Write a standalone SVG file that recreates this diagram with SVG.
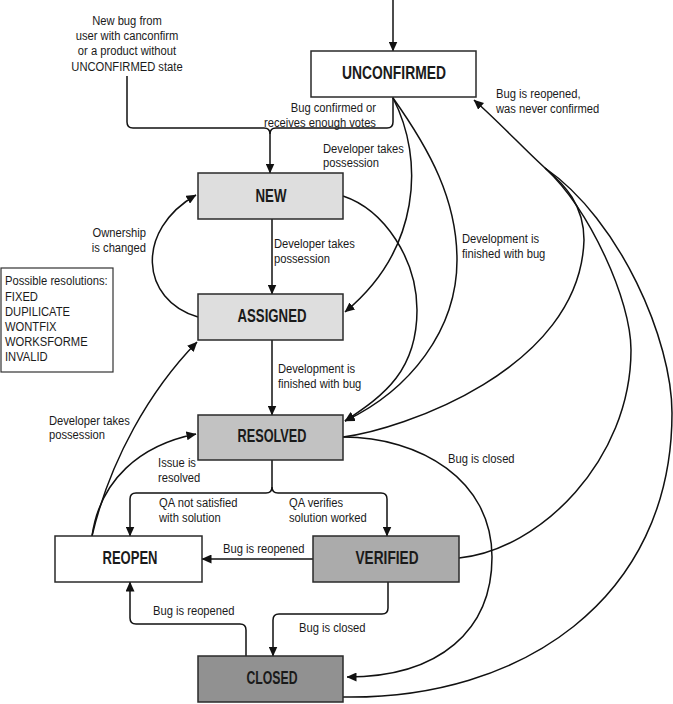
<svg xmlns="http://www.w3.org/2000/svg" width="673" height="704" viewBox="0 0 673 704">
<style>
.lbl{font-family:"Liberation Sans",Arial,sans-serif;font-size:13.5px;fill:#1a1a1a}
.bl{font-family:"Liberation Sans",Arial,sans-serif;font-weight:bold;font-size:19px;fill:#1a1a1a;text-anchor:middle}
.box{stroke:#2a2a2a;stroke-width:1.5}
.c{fill:none;stroke:#111;stroke-width:1.5}
.a{marker-end:url(#arr)}
</style>
<defs>
<marker id="arr" viewBox="0 0 10 9" refX="9.5" refY="4.5" markerWidth="10" markerHeight="9" markerUnits="userSpaceOnUse" orient="auto">
<path d="M0,0 L10,4.5 L0,9 z" fill="#111"/>
</marker>
</defs>
<rect width="673" height="704" fill="#fff"/>

<g id="connectors">
<path class="c a" d="M393,0 V51"/>
<path class="c" d="M127,76 V122 Q127,128 133,128 H264 Q270,128 270,134"/>
<path class="c a" d="M393,97 V122 Q393,128 387,128 H276 Q270,128 270,134 V173"/>
<path class="c a" d="M393,98 C425,160 420,250 345,312"/>
<path class="c a" d="M343,196 C385,210 417,260 417,310 C417,370 385,395 345,421"/>
<path class="c a" d="M393,98 C430,150 457,200 457,260 C457,330 410,390 345,421"/>
<path class="c a" d="M272,219 V294"/>
<path class="c a" d="M272,340 V415"/>
<path class="c a" d="M198,317 C140,300 135,230 196,195"/>
<path class="c a" d="M92,536 C110,460 150,390 197,342"/>
<path class="c a" d="M92,536 C100,480 140,445 196,434"/>
<path class="c a" d="M272,460 V487 Q272,493 266,493 H136 Q130,493 130,499 V536"/>
<path class="c a" d="M272,487 Q272,493 278,493 H381 Q387,493 387,499 V536"/>
<path class="c a" d="M313,559 H202"/>
<path class="c a" d="M388,582 V608 Q388,614 382,614 H279 Q273,614 273,620 V656"/>
<path class="c a" d="M246,656 V630 Q246,624 240,624 H136 Q130,624 130,618 V582"/>
<path class="c a" d="M343,437 C420,437 492,480 492,557 C492,630 440,677 347,677"/>
<path class="c" d="M343,437 C400,430 580,370 584,240 C584,205 565,185 545,168"/>
<path class="c" d="M459,558 C540,550 631,460 631,350 C631,300 590,210 545,168"/>
<path class="c" d="M343,697 C520,700 672,600 672,413 C672,340 620,220 545,168"/>
<path class="c a" d="M545,168 C525,150 500,123 474,100"/>
</g>

<g id="labels" transform="scale(0.83,1)">
<text class="lbl" text-anchor="middle"><tspan x="153" y="25">New bug from</tspan><tspan x="153" y="40">user with canconfirm</tspan><tspan x="153" y="55">or a product without</tspan><tspan x="153" y="71">UNCONFIRMED state</tspan></text>
<text class="lbl" text-anchor="end"><tspan x="453" y="112">Bug confirmed or</tspan><tspan x="453" y="127">receives enough votes</tspan></text>
<text class="lbl"><tspan x="389.2" y="153">Developer takes</tspan><tspan x="389.2" y="167">possession</tspan></text>
<text class="lbl"><tspan x="597.6" y="98">Bug is reopened,</tspan><tspan x="597.6" y="113">was never confirmed</tspan></text>
<text class="lbl"><tspan x="556.6" y="243">Development is</tspan><tspan x="556.6" y="258">finished with bug</tspan></text>
<text class="lbl"><tspan x="330.1" y="248">Developer takes</tspan><tspan x="330.1" y="263">possession</tspan></text>
<text class="lbl"><tspan x="334.9" y="373">Development is</tspan><tspan x="334.9" y="388">finished with bug</tspan></text>
<text class="lbl" text-anchor="end"><tspan x="175.9" y="237">Ownership</tspan><tspan x="175.9" y="252">is changed</tspan></text>
<text class="lbl"><tspan x="59" y="425">Developer takes</tspan><tspan x="59" y="439">possession</tspan></text>
<text class="lbl"><tspan x="190.4" y="467">Issue is</tspan><tspan x="190.4" y="482">resolved</tspan></text>
<text class="lbl"><tspan x="191.6" y="507">QA not satisfied</tspan><tspan x="191.6" y="522">with solution</tspan></text>
<text class="lbl"><tspan x="348.2" y="507">QA verifies</tspan><tspan x="348.2" y="522">solution worked</tspan></text>
<text class="lbl" x="539.8" y="463">Bug is closed</text>
<text class="lbl" x="268.7" y="553">Bug is reopened</text>
<text class="lbl" x="184.3" y="615">Bug is reopened</text>
<text class="lbl" x="360.2" y="632">Bug is closed</text>
</g>

<g id="legend">
<rect x="1" y="268" width="112" height="104" fill="#fff" stroke="#333" stroke-width="1.2"/>
<text class="lbl" transform="scale(0.83,1)"><tspan x="6" y="285">Possible resolutions:</tspan><tspan x="6" y="301">FIXED</tspan><tspan x="6" y="316">DUPILICATE</tspan><tspan x="6" y="331">WONTFIX</tspan><tspan x="6" y="346">WORKSFORME</tspan><tspan x="6" y="361">INVALID</tspan></text>
</g>

<g id="unconfirmed">
<rect class="box" x="311" y="51" width="165" height="46" fill="#fff"/>
<text class="bl" x="394" y="79" textLength="104" lengthAdjust="spacingAndGlyphs">UNCONFIRMED</text>
</g>
<g id="new">
<rect class="box" x="198" y="173" width="145" height="46" fill="#dedede"/>
<text class="bl" x="271" y="202" textLength="31" lengthAdjust="spacingAndGlyphs">NEW</text>
</g>
<g id="assigned">
<rect class="box" x="198" y="294" width="145" height="46" fill="#dedede"/>
<text class="bl" x="272" y="322" textLength="69" lengthAdjust="spacingAndGlyphs">ASSIGNED</text>
</g>
<g id="resolved">
<rect class="box" x="198" y="415" width="145" height="45" fill="#c2c2c2"/>
<text class="bl" x="272" y="442" textLength="69" lengthAdjust="spacingAndGlyphs">RESOLVED</text>
</g>
<g id="reopen">
<rect class="box" x="55" y="536" width="147" height="46" fill="#fff"/>
<text class="bl" x="130" y="564" textLength="55" lengthAdjust="spacingAndGlyphs">REOPEN</text>
</g>
<g id="verified">
<rect class="box" x="313" y="536" width="146" height="46" fill="#ababab"/>
<text class="bl" x="387" y="564" textLength="63" lengthAdjust="spacingAndGlyphs">VERIFIED</text>
</g>
<g id="closed">
<rect class="box" x="198" y="656" width="145" height="46" fill="#919191"/>
<text class="bl" x="272" y="684" textLength="51" lengthAdjust="spacingAndGlyphs">CLOSED</text>
</g>
</svg>
